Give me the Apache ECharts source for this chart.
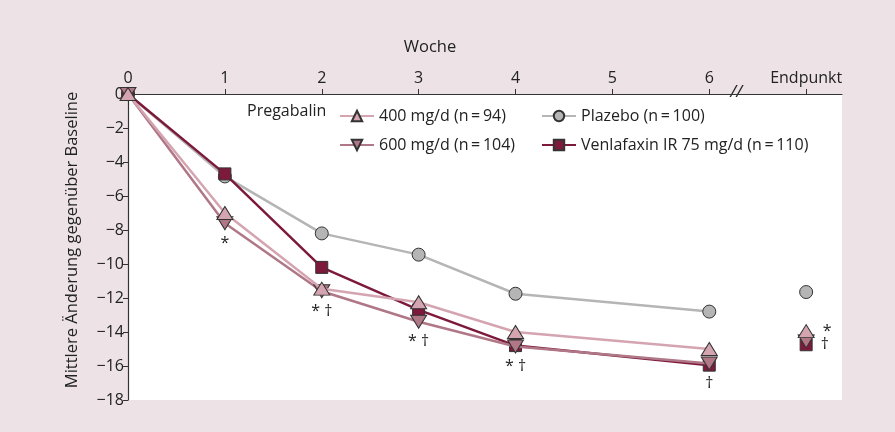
<!DOCTYPE html>
<html>
<head>
<meta charset="utf-8">
<script src="https://cdn.jsdelivr.net/npm/echarts@6/dist/echarts.min.js"></script>
<style>
  html, body { margin: 0; padding: 0; background: #ede3e7; }
  #main { width: 895px; height: 432px; }
</style>
</head>
<body>
<div id="main"></div>
<script>
// Wochen und Werte (Mittlere Änderung gegenüber Baseline)
var weeks = [0, 1, 2, 3, 4, 6];
var endpointX = 7;
var xTickLabels = ['0', '1', '2', '3', '4', '5', '6', 'Endpunkt'];

var preg400 = [0, -7.0, -11.45, -12.25, -14.0, -15.0];
var preg600 = [0, -7.6, -11.6, -13.4, -14.85, -15.85];
var plazebo = [0, -4.85, -8.2, -9.45, -11.75, -12.8];
var venla = [0, -4.7, -10.2, -12.7, -14.8, -15.95];

var preg400End = -13.95;
var preg600End = -14.55;
var plazeboEnd = -11.65;
var venlaEnd = -14.75;

var weekNotes = ['', '*', '* \u2020', '* \u2020', '* \u2020', '\u2020'];
var endNote400 = '*';
var endNoteVenla = '\u2020';

var names = ['400 mg/d (n\u2009=\u200994)', '600 mg/d (n\u2009=\u2009104)', 'Plazebo (n\u2009=\u2009100)', 'Venlafaxin IR 75 mg/d (n\u2009=\u2009110)'];

var FONT = 'Open Sans';
var FS = 16;
var col400 = '#d4a5b1', col600 = '#b07786', colPla = '#b5b5b5', colVen = '#7d1a3c';
var triDown = 'path://M0,0 L10,0 L5,9 Z';
var triUp = 'path://M5,0 L10,9 L0,9 Z';
var triSize = [16, 13];

function pairs(ys, notes) {
    var res = [];
    for (var i = 0; i < weeks.length; i++) {
        var item = { value: [weeks[i], ys[i]] };
        if (notes && notes[i]) {
            item.label = { show: true, position: 'bottom', distance: 5, formatter: notes[i],
                color: '#222', fontSize: FS, fontFamily: FONT };
        }
        res.push(item);
    }
    return res;
}

function lineSeries(name, ys, color, symbol, size, notes, z) {
    return {
        name: name, type: 'line', data: pairs(ys, notes), z: z,
        symbol: symbol, symbolSize: size,
        lineStyle: { color: color, width: 2.5 },
        itemStyle: { color: color, borderColor: '#333', borderWidth: 1 },
        emphasis: { disabled: true }
    };
}

function endSeries(name, y, color, symbol, size, note, z) {
    var item = { value: [endpointX, y] };
    if (note) {
        item.label = { show: true, position: 'right', distance: 8, formatter: note,
            color: '#222', fontSize: FS, fontFamily: FONT };
    }
    return {
        name: name, type: 'scatter', data: [item], z: z,
        symbol: symbol, symbolSize: size,
        itemStyle: { color: color, borderColor: '#333', borderWidth: 1, opacity: 1 },
        emphasis: { disabled: true }
    };
}

function legendAt(name, left, top) {
    return {
        data: [name], left: left, top: top, itemWidth: 34, itemHeight: 13, itemGap: 6,
        textStyle: { fontSize: FS, fontFamily: FONT, color: '#222' },
        selectedMode: false
    };
}

var myChart = echarts.init(document.getElementById('main'));
var option = {
    animation: false,
    backgroundColor: '#ede3e7',
    grid: { left: 128, right: 53, top: 94, bottom: 32, show: true, backgroundColor: '#ffffff', borderWidth: 0 },
    legend: [
        legendAt(names[0], 334, 103),
        legendAt(names[2], 536, 103),
        legendAt(names[1], 334, 132),
        legendAt(names[3], 536, 132)
    ],
    xAxis: {
        type: 'value', position: 'top', min: 0, max: 7.37, interval: 1,
        axisLine: { lineStyle: { color: '#333', width: 1.2 } },
        axisTick: { length: 5, lineStyle: { color: '#333' } },
        splitLine: { show: false },
        axisLabel: {
            fontSize: FS, fontFamily: FONT, color: '#222', margin: 8, showMaxLabel: false,
            formatter: function (v) { return xTickLabels[v] !== undefined ? xTickLabels[v] : ''; }
        }
    },
    yAxis: {
        type: 'value', min: -18, max: 0, interval: 2,
        axisLine: { show: true, lineStyle: { color: '#333', width: 1.2 } },
        axisTick: { show: true, length: 5, lineStyle: { color: '#333' } },
        splitLine: { show: false },
        axisLabel: {
            fontSize: FS, fontFamily: FONT, color: '#222', margin: 4,
            formatter: function (v) { return String(v).replace('-', '\u2212'); }
        }
    },
    series: [
        lineSeries(names[2], plazebo, colPla, 'circle', 13, null, 2),
        lineSeries(names[3], venla, colVen, 'rect', 12, null, 3),
        lineSeries(names[1], preg600, col600, triDown, triSize, weekNotes, 4),
        lineSeries(names[0], preg400, col400, triUp, triSize, null, 5),
        endSeries(names[2], plazeboEnd, colPla, 'circle', 13, null, 2),
        endSeries(names[3], venlaEnd, colVen, 'rect', 12, endNoteVenla, 3),
        endSeries(names[1], preg600End, col600, triDown, triSize, null, 4),
        endSeries(names[0], preg400End, col400, triUp, triSize, endNote400, 5)
    ]
};
myChart.setOption(option);

// Achsentitel, Legendenbeschriftung und Achsenbruch zwischen 6 und Endpunkt
var br = myChart.convertToPixel({ xAxisIndex: 0 }, 6.3);
myChart.setOption({
    graphic: [
        { type: 'text', x: 430, y: 47, style: { text: 'Woche', fontSize: 16.5, fontFamily: FONT, fill: '#222', align: 'center', verticalAlign: 'middle' } },
        { type: 'text', x: 72, y: 240, rotation: Math.PI / 2, style: { text: 'Mittlere \u00c4nderung gegen\u00fcber Baseline', fontSize: 16.5, fontFamily: FONT, fill: '#222', align: 'center', verticalAlign: 'middle' } },
        { type: 'text', left: 247, top: 103, style: { text: 'Pregabalin', fontSize: FS, fontFamily: FONT, fill: '#222' } },
        { type: 'text', x: br - 8, y: 84, style: { text: '//', fontSize: 17, fontStyle: 'italic', fontFamily: FONT, fill: '#222' } }
    ]
});
</script>
</body>
</html>
